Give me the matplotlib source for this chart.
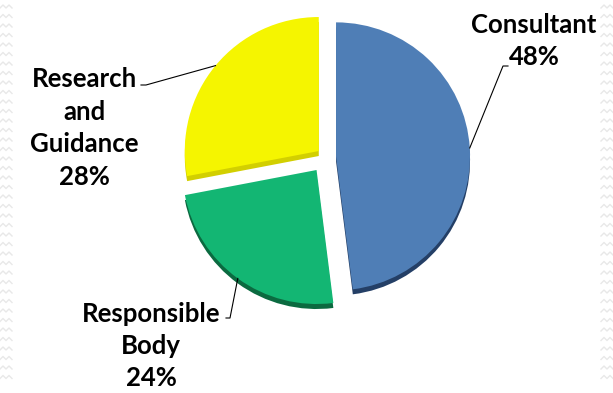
import numpy as np
import matplotlib
matplotlib.use("Agg")
import matplotlib.pyplot as plt

# data
categories = ["Consultant", "Responsible\nBody", "Research\nand\nGuidance"]
shares = [48, 24, 28]
colors = ["#4F7EB6", "#13B673", "#F5F500"]
side_colors = ["#243F66", "#0B6A40", "#D2CF00"]
explode_frac = [0.075, 0.12, 0.07]

W, H = 613, 393
fig = plt.figure(figsize=(W / 100, H / 100), dpi=100)
ax = fig.add_axes([0, 0, 1, 1])

cx, cy, r = 326, H - 157, 134
explode = [e * r for e in explode_frac]

# faint zigzag decoration on the edges
for x0 in (0, 601):
    for k in range(40):
        yy = H - 8 - k * 9.5
        xs = x0 + np.array([0, 3, 6, 9, 12])
        ys = yy + np.array([0, 3, 0, 3, 0])
        ax.plot(xs, ys, color="#E8E8E8", lw=1.0, zorder=0)

# depth (side) layer
ax.pie(shares, colors=side_colors, explode=explode, startangle=90,
       counterclock=False, radius=r, center=(cx, cy - 5),
       wedgeprops=dict(linewidth=0), frame=True)
wedges, _ = ax.pie(shares, colors=colors, explode=explode, startangle=90,
                   counterclock=False, radius=r, center=(cx, cy),
                   wedgeprops=dict(linewidth=0), frame=True)
ax.set_xlim(0, W)
ax.set_ylim(0, H)
ax.set_aspect("equal")
ax.axis("off")

label_pos = [(534, H - 41), (151, H - 346), (84, H - 128)]
elbows = [[(503, H - 66), (508, H - 66)],
          [(230, H - 318), (226, H - 318)],
          [(146, H - 85), (141, H - 85)]]

for w, cat, pct, lp, el in zip(wedges, categories, shares, label_pos, elbows):
    ang = np.deg2rad((w.theta1 + w.theta2) / 2)
    wx, wy = w.center
    px = wx + w.r * np.cos(ang)
    py = wy + w.r * np.sin(ang)
    xs = [px] + [p[0] for p in el]
    ys = [py] + [p[1] for p in el]
    ax.plot(xs, ys, color="black", lw=0.8, zorder=5)
    ax.text(lp[0], lp[1], f"{cat}\n{pct}%", ha="center", va="center",
            fontsize=18.5, fontweight="bold", family="Lato",
            linespacing=1.42, color="black", zorder=6)

fig.savefig("out.png", dpi=100)
